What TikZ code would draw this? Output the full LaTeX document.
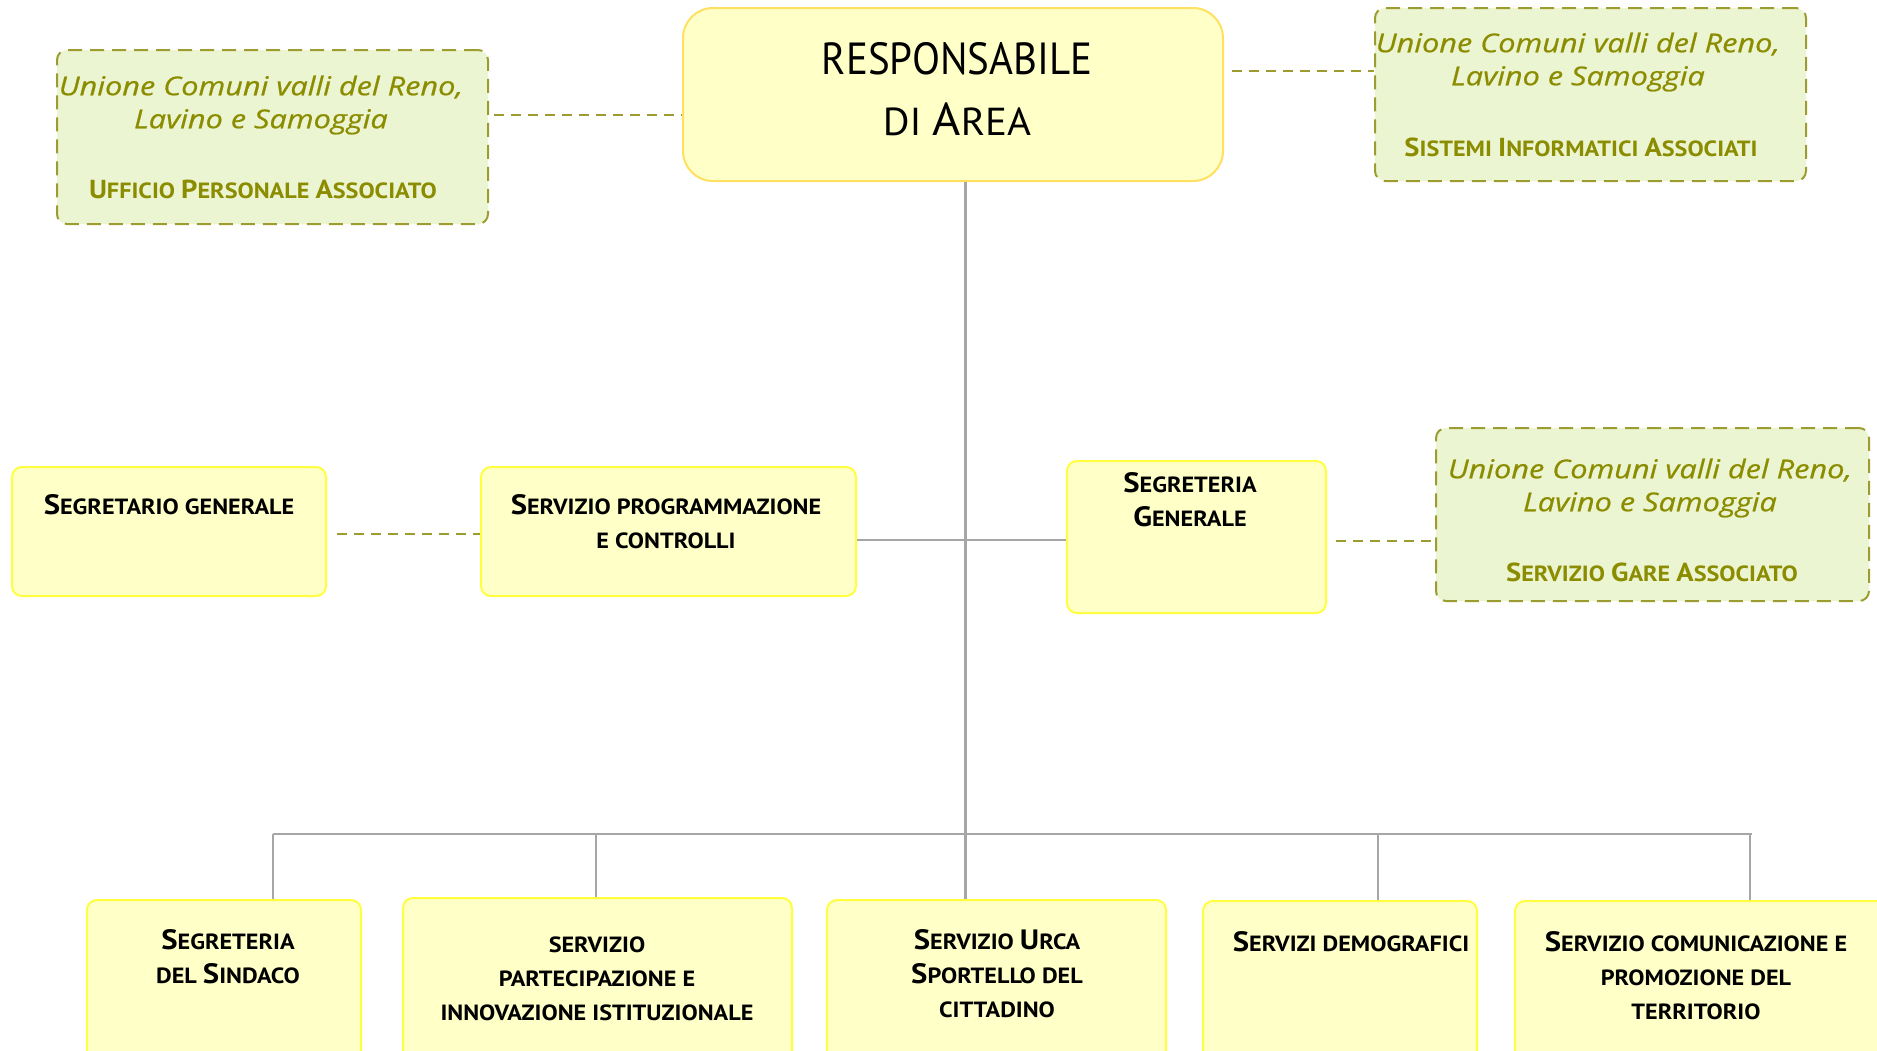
\documentclass[tikz,border=0pt]{standalone}
\usepackage{fontspec}
\setmainfont{PT Sans}
\newfontfamily\cf[FakeStretch=1.1]{PT Sans}
\newfontfamily\mf[FakeStretch=0.91]{PT Sans}
\newfontfamily\mfw[FakeStretch=1.05]{PT Sans}
\newfontfamily\itf[FakeStretch=1.18,FakeBold=0.6]{Open Sans}
\definecolor{boxfill}{HTML}{FFFFC8}
\definecolor{boxdraw}{HTML}{FFFF40}
\definecolor{mainfill}{HTML}{FFFFC8}
\definecolor{maindraw}{HTML}{FFE060}
\definecolor{grfill}{HTML}{EBF5D2}
\definecolor{olive}{HTML}{8C8C00}
\definecolor{oldash}{HTML}{9C9C30}
\definecolor{lgray}{HTML}{A6A6A6}
\newcommand\Bg[1]{{\fontsize{28}{34}\selectfont #1}}
\newcommand\Og[1]{{\fontsize{26}{30}\selectfont #1}}
\tikzset{
  ybox/.style={draw=boxdraw, fill=boxfill, line width=2pt, rounded corners=10pt, inner sep=0pt},
  mbox/.style={draw=maindraw, fill=mainfill, line width=2pt, rounded corners=30pt, inner sep=0pt},
  gbox/.style={draw=oldash, fill=grfill, line width=2pt, rounded corners=10pt, inner sep=0pt, dash pattern=on 14pt off 8pt},
  btxt/.style={align=center, inner sep=0pt, font=\cf\bfseries\fontsize{22}{34}\selectfont},
  itxt/.style={align=center, inner sep=0pt, text=olive, font=\itf\itshape\fontsize{26}{33}\selectfont},
  otxt/.style={align=center, inner sep=0pt, text=olive, font=\cf\bfseries\fontsize{22}{30}\selectfont},
  gline/.style={draw=lgray, line width=2.5pt},
  hline/.style={draw=lgray, line width=1.8pt},
  dline/.style={draw=oldash, line width=1.8pt, dash pattern=on 10pt off 7pt},
}
\begin{document}
\begin{tikzpicture}[x=1pt, y=-1pt]
\useasboundingbox (0,0) rectangle (1877,1050);
\clip (0,0) rectangle (1877,1050);

% boxes
\node[mbox, minimum width=540pt, minimum height=173pt] (main) at (953,94.5) {};
\node[gbox, minimum width=431pt, minimum height=174pt] (uff) at (272.5,137) {};
\node[gbox, minimum width=431pt, minimum height=173pt] (sis) at (1590.5,94.5) {};
\node[gbox, minimum width=433pt, minimum height=173pt] (gare) at (1652.5,514.5) {};

\node[ybox, minimum width=314pt, minimum height=129pt] (segr) at (169,531.5) {};
\node[ybox, minimum width=375pt, minimum height=129pt] (prog) at (668.5,531.5) {};
\node[ybox, minimum width=259pt, minimum height=152pt] (sgen) at (1196.5,537) {};

\node[ybox, minimum width=274pt, minimum height=180pt] (sind) at (224,990) {};
\node[ybox, minimum width=389pt, minimum height=184pt] (part) at (597.5,990) {};
\node[ybox, minimum width=339pt, minimum height=180pt] (urca) at (996.5,990) {};
\node[ybox, minimum width=274pt, minimum height=178pt] (demo) at (1340,990) {};
\node[ybox, minimum width=375pt, minimum height=178pt] (comu) at (1702.5,990) {};

% texts
\node[inner sep=0pt, align=center, font=\mf\fontsize{45}{61}\selectfont] (mainT) at (957,89)
  {RESPONSABILE\\{\mfw\fontsize{39}{61}\selectfont DI }{\mfw\fontsize{46}{61}\selectfont A}{\mfw\fontsize{39}{61}\selectfont REA}};

\node[itxt] (uffI) at (261,105) {Unione Comuni valli del Reno,\\Lavino e Samoggia};
\node[otxt] (uffO) at (263,189) {\Og{U}FFICIO \Og{P}ERSONALE \Og{A}SSOCIATO};
\node[itxt] (sisI) at (1578,62) {Unione Comuni valli del Reno,\\Lavino e Samoggia};
\node[otxt] (sisO) at (1581,147) {\Og{S}ISTEMI \Og{I}NFORMATICI \Og{A}SSOCIATI};
\node[itxt] (gareI) at (1650,488) {Unione Comuni valli del Reno,\\Lavino e Samoggia};
\node[otxt] (gareO) at (1652,572) {\Og{S}ERVIZIO \Og{G}ARE \Og{A}SSOCIATO};

\node[btxt] (segrT) at (169,505) {\Bg{S}EGRETARIO GENERALE};
\node[btxt] (progT) at (666,522) {\Bg{S}ERVIZIO PROGRAMMAZIONE\\E CONTROLLI};
\node[btxt] (sgenT) at (1190,500) {\Bg{S}EGRETERIA\\\Bg{G}ENERALE};

\node[btxt] (sindT) at (228,957) {\Bg{S}EGRETERIA\\DEL \Bg{S}INDACO};
\node[btxt] (partT) at (597,979) {SERVIZIO\\PARTECIPAZIONE E\\INNOVAZIONE ISTITUZIONALE};
\node[btxt] (urcaT) at (997,974) {\Bg{S}ERVIZIO \Bg{U}RCA\\\Bg{S}PORTELLO DEL\\CITTADINO};
\node[btxt] (demoT) at (1351,942) {\Bg{S}ERVIZI DEMOGRAFICI};
\node[btxt] (comuT) at (1696,976) {\Bg{S}ERVIZIO COMUNICAZIONE E\\PROMOZIONE DEL\\TERRITORIO};

% junctions
\coordinate (trunk) at (965,834);
\coordinate (midj) at (965,540);
\coordinate (b1) at (273,834);
\coordinate (b2) at (596,834);
\coordinate (b4) at (1378,834);
\coordinate (b5) at (1752,834);

% gray connectors
\draw[hline] (prog.east |- midj) -- (sgen.west |- midj);
\draw[hline] (b1) -- (b5);
\draw[gline, line width=3pt] (main.south -| trunk) -- (urca.north -| trunk);
\draw[gline] (b1) -- (b1 |- sind.north);
\draw[gline] (b2) -- (b2 |- part.north);
\draw[gline] (b4) -- (b4 |- demo.north);
\draw[gline] ([xshift=-2pt]b5) -- ([xshift=-2pt]b5 |- comu.north);

% dashed connectors
\draw[dline] ([xshift=5pt]uff.east |- 0,115) -- (main.west |- 0,115);
\draw[dline] ([xshift=8pt]main.east |- 0,71) -- (sis.west |- 0,71);
\draw[dline] ([xshift=10pt]segr.east |- 0,534) -- (prog.west |- 0,534);
\draw[dline] ([xshift=9pt]sgen.east |- 0,541) -- (gare.west |- 0,541);
\end{tikzpicture}
\end{document}
